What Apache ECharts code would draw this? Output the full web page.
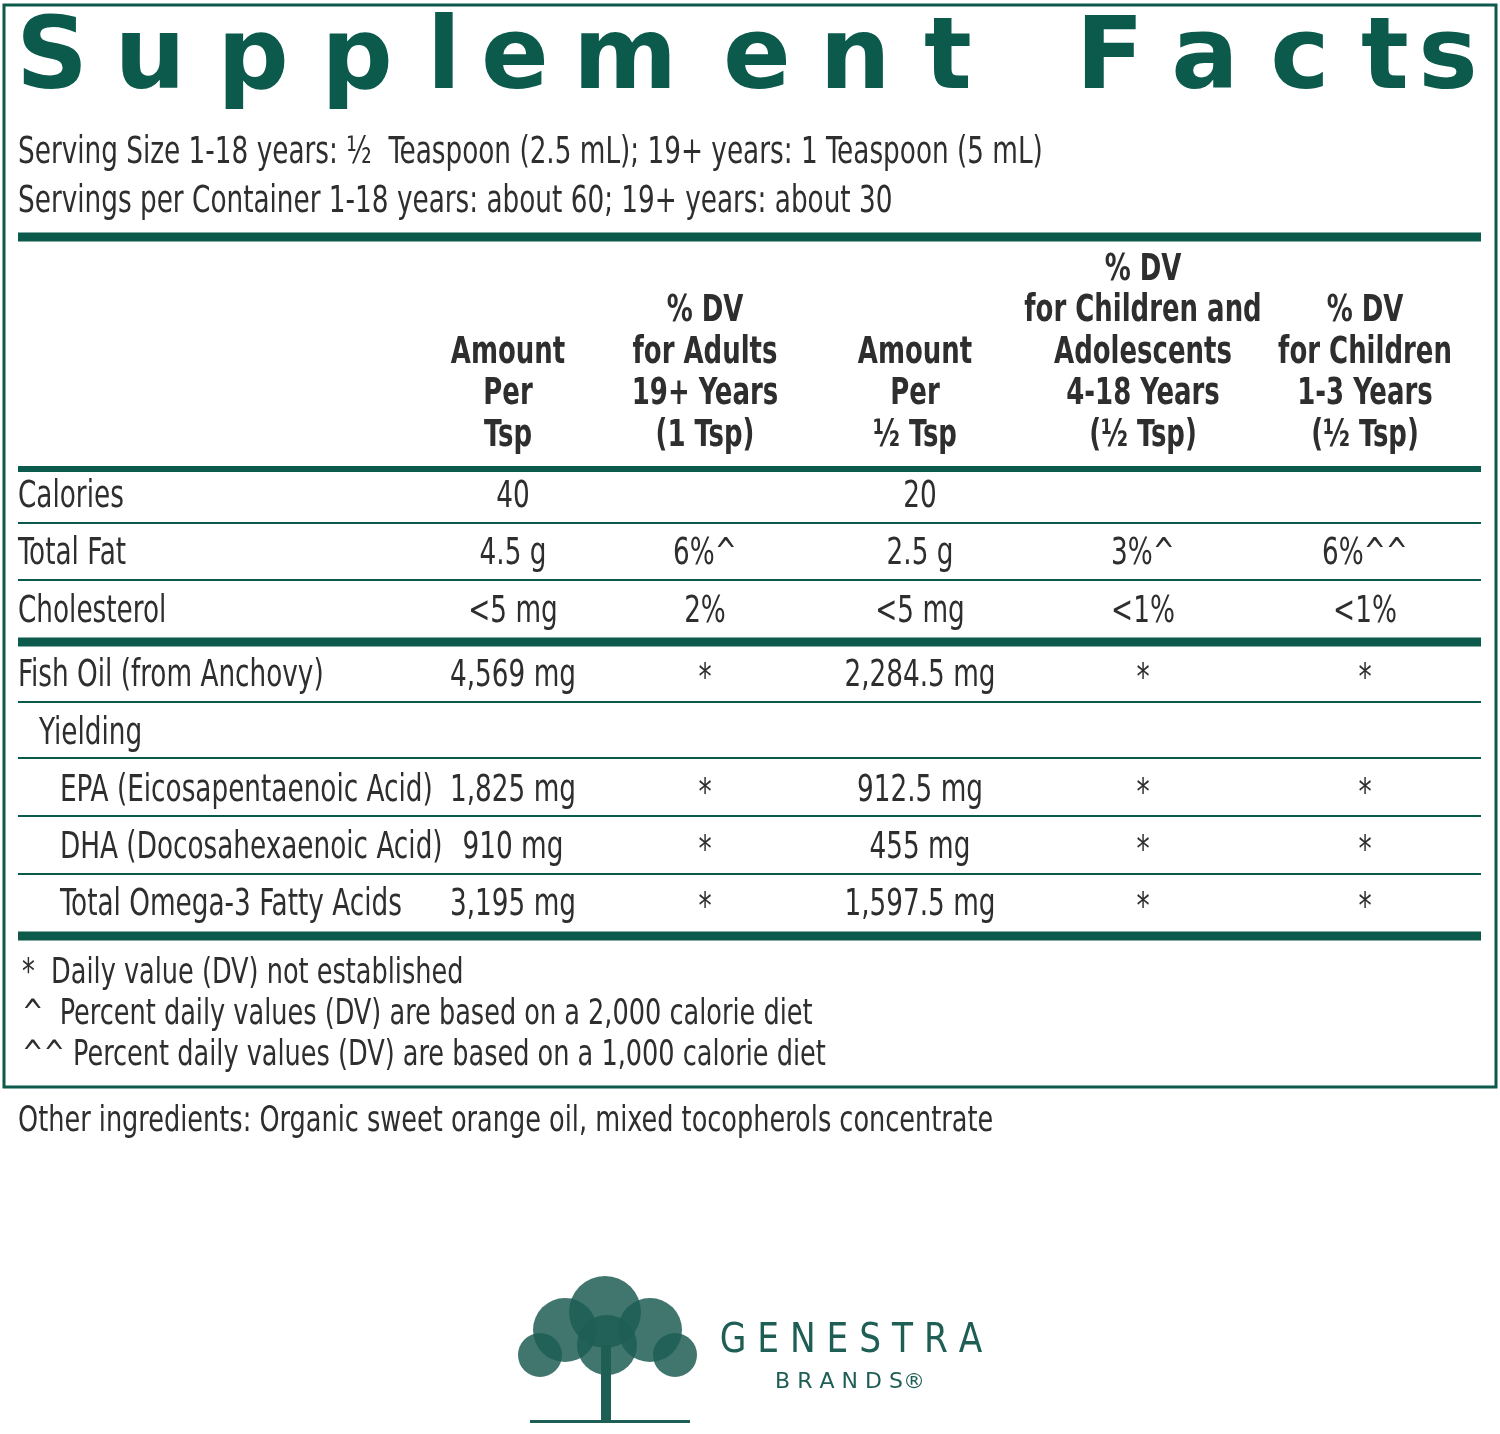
<!DOCTYPE html>
<html><head><meta charset="utf-8">
<script src="https://cdn.jsdelivr.net/npm/echarts@6/dist/echarts.min.js"></script>
<style>html,body{margin:0;padding:0;background:#fff}#c{width:1500px;height:1434px}</style>
</head><body><div id="c"></div>
<script>
const titleText = "Supplement Facts";
const servingLines = ["Serving Size 1-18 years: ½  Teaspoon (2.5 mL); 19+ years: 1 Teaspoon (5 mL)",
  "Servings per Container 1-18 years: about 60; 19+ years: about 30"];
const headers = [
  ["Amount","Per","Tsp"],
  ["% DV","for Adults","19+ Years","(1 Tsp)"],
  ["Amount","Per","½ Tsp"],
  ["% DV","for Children and","Adolescents","4-18 Years","(½ Tsp)"],
  ["% DV","for Children","1-3 Years","(½ Tsp)"]
];
const rowLabels = ["Calories","Total Fat","Cholesterol","Fish Oil (from Anchovy)","Yielding",
  "EPA (Eicosapentaenoic Acid)","DHA (Docosahexaenoic Acid)","Total Omega-3 Fatty Acids"];
const rowIndent = [0,0,0,0,1,2,2,2];
const amountTsp = ["40","4.5 g","<5 mg","4,569 mg","","1,825 mg","910 mg","3,195 mg"];
const dvAdults = ["","6%^","2%","*","","*","*","*"];
const amountHalf = ["20","2.5 g","<5 mg","2,284.5 mg","","912.5 mg","455 mg","1,597.5 mg"];
const dvTeens = ["","3%^","<1%","*","","*","*","*"];
const dvKids = ["","6%^^","<1%","*","","*","*","*"];
const footnotes = ["*  Daily value (DV) not established",
  "^  Percent daily values (DV) are based on a 2,000 calorie diet",
  "^^ Percent daily values (DV) are based on a 1,000 calorie diet"];
const otherIng = "Other ingredients: Organic sweet orange oil, mixed tocopherols concentrate";

const TEAL = "#0b5a4c", TXT = "#2e2e2e";
const F = "'DejaVu Sans Condensed','DejaVu Sans',sans-serif";
const g = [];
function txt(x,y,s,size,opt){ opt=opt||{};
  g.push({type:'text',x:x,y:y,scaleX:opt.sx||(opt.weight==='bold'?0.78:0.79),style:{x:0,y:0,text:s,fill:opt.fill||TXT,font:(opt.weight||'normal')+' '+size+'px '+(opt.family||F),
    textAlign:opt.align||'left',textVerticalAlign:'middle'}});}
function line(y,w){ g.push({type:'rect',shape:{x:18,y:y-w/2,width:1463,height:w},style:{fill:TEAL}}); }

g.push({type:'rect',shape:{x:4,y:5,width:1492,height:1082},style:{fill:'none',stroke:TEAL,lineWidth:3}});
const tx=[52,150,253,357,444,515,625,757,855,948,1110,1205,1300,1385,1448];
let ci=0;
for(const ch of titleText){ if(ch===' ') continue; txt(tx[ci++],62,ch,100,{fill:TEAL,weight:'bold',align:'center',sx:1,family:"'DejaVu Sans','Liberation Sans',sans-serif"}); }
txt(18,153,servingLines[0],37); txt(18,202,servingLines[1],37);
line(237,9); line(469,6); line(642,9); line(936,9);
[523,580,702,758,816,874].forEach(y=>line(y,2));
const colX=[508,705,915,1143,1365];
headers.forEach((h,i)=>{ const n=h.length; h.forEach((s,j)=>txt(colX[i],436-(n-1-j)*41.5,s,37,{weight:'bold',align:'center'})); });
const rowY=[497,554,612,676,734,791,848,905];
const cols=[amountTsp,dvAdults,amountHalf,dvTeens,dvKids];
rowLabels.forEach((l,i)=>{
  txt(18+rowIndent[i]*21,rowY[i],l,37);
  cols.forEach((c,k)=>{ if(c[i]) txt(colX[k]+(k===0||k===2?5:0),rowY[i]+(c[i]==='*'?4:0),c[i],37,{align:'center'}); });
});
footnotes.forEach((f,i)=>txt(22,974+i*41,f,36));
txt(18,1122,otherIng,36);
// logo
const LG="#1f5e55";
g.push({type:'rect',shape:{x:601,y:1345,width:10,height:78},style:{fill:LG}});
[[565,1330,32],[605,1312,36],[650,1330,32],[540,1355,22],[675,1355,22],[607,1345,30]].forEach(c=>
  g.push({type:'circle',shape:{cx:c[0],cy:c[1],r:c[2]},style:{fill:LG,opacity:0.85}}));
g.push({type:'rect',shape:{x:530,y:1420,width:160,height:3},style:{fill:LG}});
txt(851,1342,"G E N E S T R A",40,{fill:LG,align:'center',sx:0.86,family:"'DejaVu Sans',sans-serif"});
txt(850,1382,"B R A N D S®",22,{fill:LG,align:'center',sx:1,family:"'DejaVu Sans',sans-serif"});

const chart=echarts.init(document.getElementById('c'));
chart.setOption({animation:false,graphic:g});
</script></body></html>
